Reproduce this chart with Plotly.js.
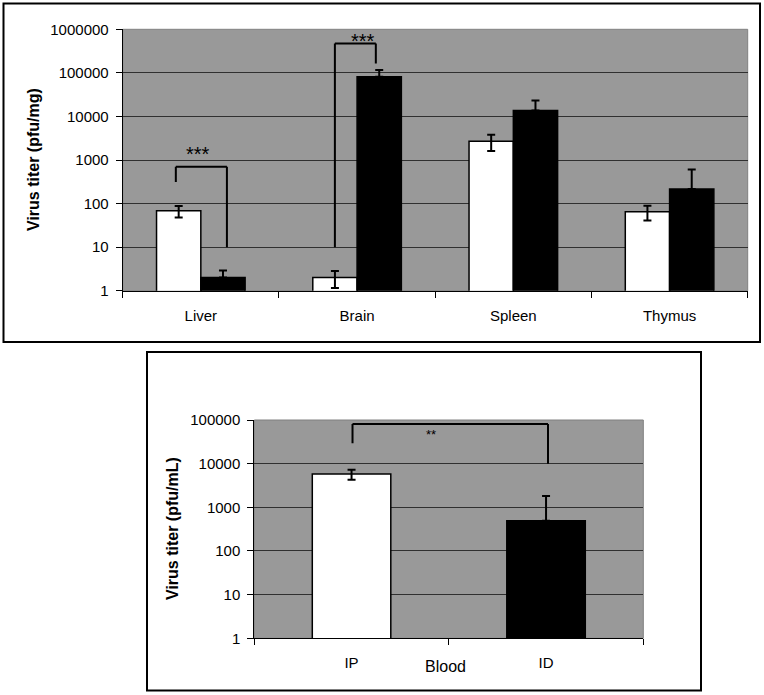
<!DOCTYPE html>
<html>
<head>
<meta charset="utf-8">
<script src="https://cdn.plot.ly/plotly-3.0.1.min.js"></script>
<style>
html,body{margin:0;padding:0;background:#fff;}
#chart{width:764px;height:695px;}
</style>
</head>
<body>
<div id="chart"></div>
<script>
// ---- Data ----
var organs = ['Liver', 'Brain', 'Spleen', 'Thymus'];
var ipTiter = [68, 2, 2700, 65];          // white bars (IP)
var ipErr = [20, 0.85, 1100, 24];
var idTiter = [2, 81000, 13700, 215];     // black bars (ID)
var idErrUp = [0.9, 36000, 9600, 390];
var idErrDown = [0, 0, 0, 0];

var routes = ['IP', 'ID'];
var bloodTiter = [5800, 490];
var bloodErrUp = [1500, 1330];
var bloodErrDown = [1500, 0];

var topTickText = ['1', '10', '100', '1000', '10000', '100000', '1000000'];
var bottomTickText = ['1', '10', '100', '1000', '10000', '100000'];

var topYTitle = 'Virus titer (pfu/mg)';
var bottomYTitle = 'Virus titer (pfu/mL)';
var bottomXTitle = 'Blood';

// significance brackets: [xLeft, xRight, yLeftEnd, yTop, yRightEnd, label]
var liverBracket = [-0.16, 0.167, 311, 700, 10, '***'];
var brainBracket = [0.858, 1.12, 10, 472000, 164000, '***'];
var bloodBracket = [0.005, 1.01, 29200, 80800, 10000, '**'];

// ---- Layout helpers (pixels -> paper) ----
var W = 764, H = 695;
function px(x) { return x / W; }
function py(y) { return 1 - y / H; }

var FONT = 'Liberation Sans, Arial, Helvetica, sans-serif';

var barLine = {color: '#000', width: 1.5};
var errStyle = {color: '#000', thickness: 2, width: 4};

var topW = 0.2834;
var botW = 0.4036;

var traces = [
  {type: 'bar', x: organs, y: ipTiter, xaxis: 'x', yaxis: 'y',
   width: topW, offset: -topW,
   marker: {color: '#ffffff', line: barLine},
   error_y: Object.assign({type: 'data', symmetric: true, array: ipErr, visible: true}, errStyle),
   hoverinfo: 'skip', showlegend: false},
  {type: 'bar', x: organs, y: idTiter, xaxis: 'x', yaxis: 'y',
   width: topW, offset: 0,
   marker: {color: '#000000', line: barLine},
   error_y: Object.assign({type: 'data', symmetric: false, array: idErrUp, arrayminus: idErrDown, visible: true}, errStyle),
   hoverinfo: 'skip', showlegend: false},
  {type: 'bar', x: routes, y: bloodTiter, xaxis: 'x2', yaxis: 'y2',
   width: botW, offset: -botW / 2,
   marker: {color: ['#ffffff', '#000000'], line: barLine},
   error_y: Object.assign({type: 'data', symmetric: false, array: bloodErrUp, arrayminus: bloodErrDown, visible: true}, errStyle),
   hoverinfo: 'skip', showlegend: false}
];

function bracketShapes(b, xr, yr) {
  var l = {color: '#000', width: 2};
  return [
    {type: 'line', xref: xr, yref: yr, x0: b[0], x1: b[0], y0: b[2], y1: b[3], line: l},
    {type: 'line', xref: xr, yref: yr, x0: b[0], x1: b[1], y0: b[3], y1: b[3], line: l},
    {type: 'line', xref: xr, yref: yr, x0: b[1], x1: b[1], y0: b[3], y1: b[4], line: l}
  ];
}

var shapes = [
  // outer frames
  {type: 'rect', xref: 'paper', yref: 'paper', x0: px(3.5), x1: px(760), y0: py(3.5), y1: py(342), line: {color: '#000', width: 2}},
  {type: 'rect', xref: 'paper', yref: 'paper', x0: px(147), x1: px(701), y0: py(352), y1: py(690.5), line: {color: '#000', width: 2}},
  // plot area borders
  {type: 'rect', xref: 'x domain', yref: 'y domain', x0: 0, x1: 1, y0: 0, y1: 1, line: {color: '#808080', width: 1}, layer: 'below'},
  {type: 'rect', xref: 'x2 domain', yref: 'y2 domain', x0: 0, x1: 1, y0: 0, y1: 1, line: {color: '#808080', width: 1}, layer: 'below'}
].concat(bracketShapes(liverBracket, 'x', 'y'))
 .concat(bracketShapes(brainBracket, 'x', 'y'))
 .concat(bracketShapes(bloodBracket, 'x2', 'y2'));

var annotations = [
  {text: topYTitle, xref: 'paper', yref: 'paper', x: px(33), y: py(160), textangle: -90,
   showarrow: false, font: {family: FONT, size: 16, color: '#000', weight: 'bold'}, xanchor: 'center', yanchor: 'middle'},
  {text: bottomYTitle, xref: 'paper', yref: 'paper', x: px(172), y: py(529), textangle: -90,
   showarrow: false, font: {family: FONT, size: 16, color: '#000', weight: 'bold'}, xanchor: 'center', yanchor: 'middle'},
  {text: bottomXTitle, xref: 'paper', yref: 'paper', x: px(445), y: py(666),
   showarrow: false, font: {family: FONT, size: 16, color: '#000'}, xanchor: 'center', yanchor: 'middle'},
  {text: liverBracket[5], xref: 'x', yref: 'paper', x: -0.017, y: py(154),
   showarrow: false, font: {family: FONT, size: 20, color: '#000'}, xanchor: 'center', yanchor: 'middle'},
  {text: brainBracket[5], xref: 'x', yref: 'paper', x: 1.036, y: py(41),
   showarrow: false, font: {family: FONT, size: 20, color: '#000'}, xanchor: 'center', yanchor: 'middle'},
  {text: bloodBracket[5], xref: 'x2', yref: 'paper', x: 0.409, y: py(434),
   showarrow: false, font: {family: FONT, size: 13, color: '#000'}, xanchor: 'center', yanchor: 'middle'}
];

var xCommon = {
  type: 'category', showline: true, linecolor: '#000', linewidth: 1,
  ticks: 'outside', tickson: 'boundaries', ticklen: 6, tickcolor: '#000', tickwidth: 1,
  showgrid: false, zeroline: false, fixedrange: true,
  tickfont: {family: FONT, size: 15, color: '#000'}, ticklabelstandoff: 11
};
var yCommon = {
  type: 'log', showline: true, linecolor: '#000', linewidth: 1,
  ticks: 'outside', ticklen: 6, tickcolor: '#000', tickwidth: 1,
  showgrid: true, gridcolor: '#303030', gridwidth: 1, zeroline: false, fixedrange: true,
  tickfont: {family: FONT, size: 15, color: '#000'}, ticklabelstandoff: 4
};

var layout = {
  width: W, height: H, autosize: false,
  margin: {l: 0, r: 0, t: 0, b: 0, pad: 0},
  paper_bgcolor: '#ffffff', plot_bgcolor: '#999999',
  font: {family: FONT, color: '#000'},
  barmode: 'group',
  showlegend: false,
  xaxis: Object.assign({}, xCommon, {domain: [px(122.7), px(747.7)], anchor: 'y', range: [-0.5, 3.5], categoryarray: organs, categoryorder: 'array'}),
  yaxis: Object.assign({}, yCommon, {domain: [py(290.7), py(29.3)], anchor: 'x', range: [0, 6],
    tickvals: topTickText.map(Number), ticktext: topTickText}),
  xaxis2: Object.assign({}, xCommon, {domain: [px(254.3), px(643.3)], anchor: 'y2', range: [-0.5, 1.5], categoryarray: routes, categoryorder: 'array'}),
  yaxis2: Object.assign({}, yCommon, {domain: [py(638.3), py(420)], anchor: 'x2', range: [0, 5],
    tickvals: bottomTickText.map(Number), ticktext: bottomTickText}),
  shapes: shapes,
  annotations: annotations
};

Plotly.newPlot('chart', traces, layout, {displayModeBar: false, staticPlot: true});
</script>
</body>
</html>
